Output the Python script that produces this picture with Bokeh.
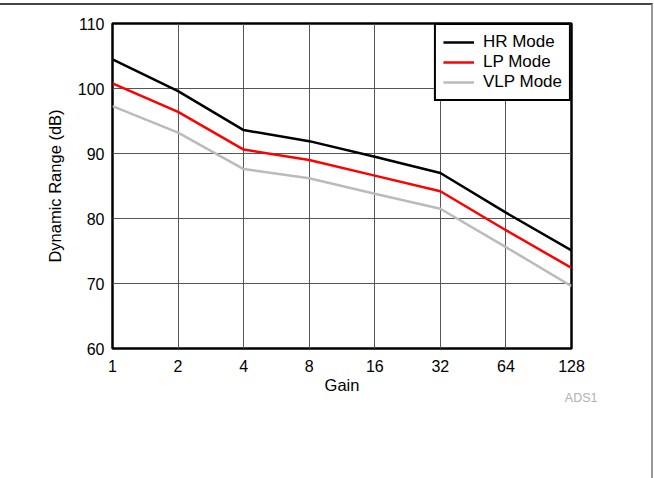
from bokeh.plotting import figure
from bokeh.models import FixedTicker, PrintfTickFormatter, Title, Range1d
from bokeh.embed import file_html
from bokeh.resources import INLINE

gains = [1, 2, 4, 8, 16, 32, 64, 128]
hr_mode = [104.5, 99.6, 93.6, 91.9, 89.5, 87.0, 80.9, 75.1]
lp_mode = [100.8, 96.4, 90.6, 89.0, 86.6, 84.2, 78.2, 72.4]
vlp_mode = [97.3, 93.2, 87.6, 86.2, 83.8, 81.5, 75.6, 69.6]
y_ticks = [60, 70, 80, 90, 100, 110]
series_names = ["HR Mode", "LP Mode", "VLP Mode"]
series_colors = ["#000000", "#ff0000", "#bbbbbb"]

FONT = "Liberation Sans"

p = figure(
    x_axis_type="log",
    x_range=Range1d(1, 128),
    y_range=Range1d(60, 110),
    frame_width=459,
    frame_height=325,
    min_border_left=112,
    min_border_top=18,
    min_border_right=80,
    min_border_bottom=130,
    output_backend="svg",
    toolbar_location=None,
    styles={"position": "absolute", "left": "0px", "top": "3px",
            "border-top": "2px solid #444444", "border-right": "2px solid #999999"},
)

for vals, name, col in zip([hr_mode, lp_mode, vlp_mode], series_names, series_colors):
    p.line(gains, vals, line_color=col, line_width=2.5, legend_label=name)

p.xaxis.ticker = FixedTicker(ticks=gains, minor_ticks=[])
p.xaxis.formatter = PrintfTickFormatter(format="%d")
p.yaxis.ticker = FixedTicker(ticks=y_ticks, minor_ticks=[])

for ax in (p.xaxis[0], p.yaxis[0]):
    ax.axis_line_color = None
    ax.major_tick_line_color = None
    ax.minor_tick_line_color = None
    ax.major_tick_out = 0
    ax.major_tick_in = 0
    ax.major_label_text_font = FONT
    ax.major_label_text_font_size = "16px"
    ax.major_label_text_color = "#000000"
    ax.axis_label_text_font = FONT
    ax.axis_label_text_font_size = "16.5px"
    ax.axis_label_text_font_style = "normal"
    ax.axis_label_text_color = "#000000"

p.xaxis.axis_label = "Gain"
p.yaxis.axis_label = "Dynamic Range (dB)"
p.xaxis.major_label_standoff = 11
p.xaxis.axis_label_standoff = 1
p.yaxis.major_label_standoff = 8
p.yaxis.axis_label_standoff = 11

p.xgrid.grid_line_color = "#555555"
p.ygrid.grid_line_color = "#555555"
p.xgrid.grid_line_width = 1
p.ygrid.grid_line_width = 1

p.outline_line_color = "#000000"
p.outline_line_width = 2.5
p.outline_line_alpha = 1
p.background_fill_color = "#ffffff"
p.border_fill_color = "#ffffff"

lg = p.legend[0]
lg.location = "top_right"
lg.margin = 0
lg.padding = 7
lg.spacing = 0
lg.glyph_width = 31
lg.glyph_height = 20
lg.label_height = 20
lg.label_standoff = 9
lg.label_text_font = FONT
lg.label_text_font_size = "17px"
lg.label_text_color = "#000000"
lg.border_line_color = "#000000"
lg.border_line_alpha = 1
lg.border_line_width = 2
lg.background_fill_color = "#ffffff"
lg.background_fill_alpha = 1

note = Title(text="ADS1", align="right", offset=-26, standoff=-15,
             text_font=FONT, text_font_size="12.5px", text_color="#b0b0b0",
             text_font_style="normal")
p.add_layout(note, "below")

open("out.html", "w").write(file_html(p, INLINE))
